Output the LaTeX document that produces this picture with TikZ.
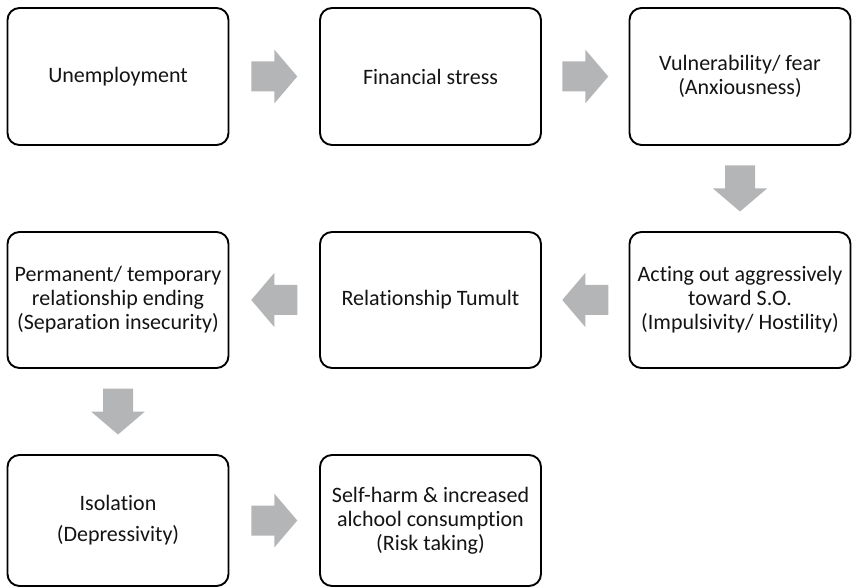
\documentclass[tikz,border=0pt]{standalone}
\usepackage{fontspec}
\setmainfont{Carlito}[Ligatures=NoCommon]
\usetikzlibrary{calc}
\definecolor{arrowgray}{RGB}{180,181,183}
\definecolor{txt}{RGB}{20,20,20}
\tikzset{
  stagebox/.style={draw=black, line width=1.9pt, rounded corners=12pt, fill=white,
    minimum width=221pt, inner sep=4pt, align=center, text=txt,
    font=\fontsize{22}{24}\selectfont},
  pics/blockarrow/.style={code={
    \fill[arrowgray] (-23,-15) -- (0,-15) -- (0,-27) -- (23,0) -- (0,27) -- (0,15) -- (-23,15) -- cycle;}}
}
\begin{document}
\begin{tikzpicture}[x=1pt,y=-1pt]
\useasboundingbox (0,0) rectangle (852,588);
\node[stagebox, minimum height=137pt] (b1) at (118,76.5) {Unemployment};
\node[stagebox, minimum height=137pt] (b2) at (430.5,76.5) {Financial stress};
\node[stagebox, minimum height=137pt] (b3) at (740,76.5) {Vulnerability/ fear\\(Anxiousness)};
\node[stagebox, minimum height=136pt] (b6) at (740,300) {Acting out aggressively\\toward S.O.\\(Impulsivity/ Hostility)};
\node[stagebox, minimum height=136pt] (b5) at (430.5,300) {Relationship Tumult};
\node[stagebox, minimum height=136pt] (b4) at (118,300) {Permanent/ temporary\\relationship ending\\(Separation insecurity)};
\node[stagebox, minimum height=131pt] (b7) at (118,520.5) {Isolation\\[7pt](Depressivity)};
\node[stagebox, minimum height=131pt] (b8) at (430.5,520.5) {Self-harm \& increased\\alchool consumption\\(Risk taking)};
\pic at ($(b1.east)!0.5!(b2.west)$) {blockarrow};
\pic at ($(b2.east)!0.5!(b3.west)$) {blockarrow};
\pic[rotate=-90] at ($(b3.south)!0.5!(b6.north)$) {blockarrow};
\pic[rotate=180] at ($(b6.west)!0.5!(b5.east)$) {blockarrow};
\pic[rotate=180] at ($(b5.west)!0.5!(b4.east)$) {blockarrow};
\pic[rotate=-90] at ($(b4.south)!0.5!(b7.north)$) {blockarrow};
\pic at ($(b7.east)!0.5!(b8.west)$) {blockarrow};
\end{tikzpicture}
\end{document}
